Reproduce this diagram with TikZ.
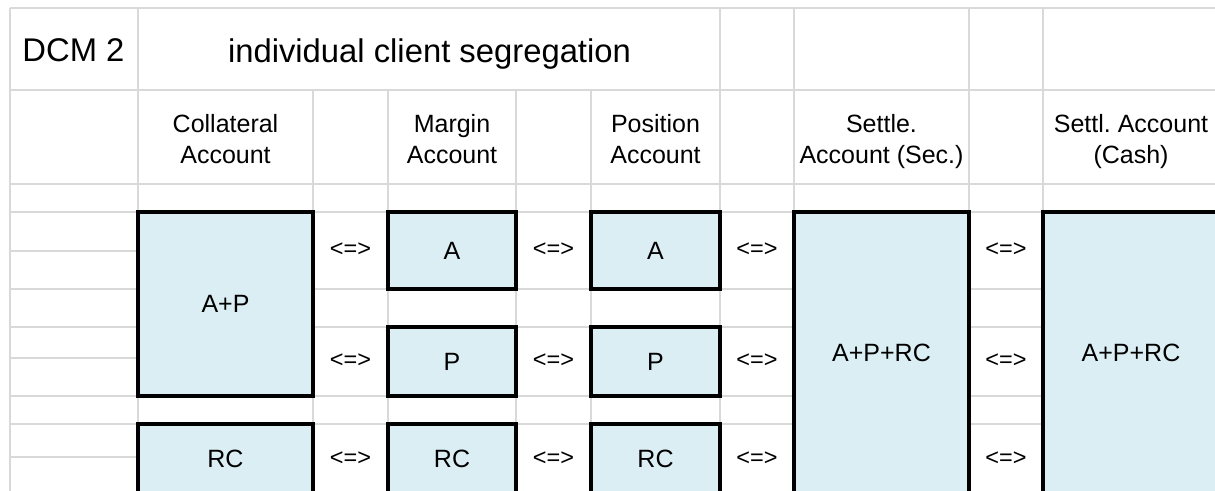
\documentclass[tikz,border=0pt]{standalone}
\usepackage{fontspec}
\setmainfont{Liberation Sans}
\frenchspacing
\definecolor{gridc}{RGB}{217,217,217}
\definecolor{boxfill}{RGB}{218,238,243}
\tikzset{
  gridline/.style={draw=gridc, line width=1.4pt},
  acct/.style={draw=black, fill=boxfill, line width=3.6pt, inner sep=0pt, outer sep=0pt, font=\fontsize{25}{31}\selectfont},
  hdr/.style={align=center, inner sep=0pt, anchor=base, font=\fontsize{25}{31}\selectfont},
  arr/.style={inner sep=0pt, font=\fontsize{23.5}{28}\selectfont},
  big/.style={inner sep=0pt, anchor=base, font=\fontsize{32.8}{38}\selectfont}
}
\begin{document}
\begin{tikzpicture}[x=1pt,y=-1pt]
\useasboundingbox (0,0) rectangle (1215,490);
\clip (0,0) rectangle (1215,490);
\fill[white] (0,0) rectangle (1215,490);
% grid: horizontal
\foreach \yy in {8,90,184,212,289,327,396,424}
  \draw[gridline] (10,\yy) -- (1215,\yy);
\foreach \yy in {251,358,457}
  \draw[gridline] (10,\yy) -- (138,\yy);
% grid: vertical
\foreach \xx in {10,138,720,794,969,1043}
  \draw[gridline] (\xx,8) -- (\xx,495);
\foreach \xx in {313,388,516,591}
  \draw[gridline] (\xx,90) -- (\xx,495);
% title row
\node[big] (dcm) at (73.5,61.5) {DCM 2};
\node[big] (title) at (429.5,62) {individual client segregation};
% headers
\node[hdr] (hcoll) at (225.5,163) {Collateral\\Account};
\node[hdr] (hmarg) at (452,163) {Margin\\Account};
\node[hdr] (hpos) at (655.5,163) {Position\\Account};
\node[hdr] (hsec) at (881.5,163) {Settle.\\Account (Sec.)};
\node[hdr] (hcash) at (1131,163) {Settl. Account\\(Cash)};
% account boxes
\node[acct, minimum width=175pt, minimum height=184pt] (collAP) at (225.5,304) {A+P};
\node[acct, minimum width=175pt, minimum height=70pt] (collRC) at (225.5,459) {RC};
\node[acct, minimum width=128pt, minimum height=77pt] (margA) at (452,250.5) {A};
\node[acct, minimum width=128pt, minimum height=69pt] (margP) at (452,361.5) {P};
\node[acct, minimum width=128pt, minimum height=70pt] (margRC) at (452,459) {RC};
\node[acct, minimum width=129pt, minimum height=77pt] (posA) at (655.5,250.5) {A};
\node[acct, minimum width=129pt, minimum height=69pt] (posP) at (655.5,361.5) {P};
\node[acct, minimum width=129pt, minimum height=70pt] (posRC) at (655.5,459) {RC};
\node[acct, minimum width=175pt, minimum height=282pt] (sec) at (881.5,353) {A+P+RC};
\node[acct, minimum width=176pt, minimum height=282pt] (cash) at (1131,353) {A+P+RC};
% exchange markers
\foreach \xx/\nm in {350.5/a, 553.5/b, 757/c, 1006/d}{
  \node[arr] (x\nm1) at (\xx,250) {<=>};
  \node[arr] (x\nm2) at (\xx,361) {<=>};
  \node[arr] (x\nm3) at (\xx,459) {<=>};
}
\end{tikzpicture}
\end{document}
